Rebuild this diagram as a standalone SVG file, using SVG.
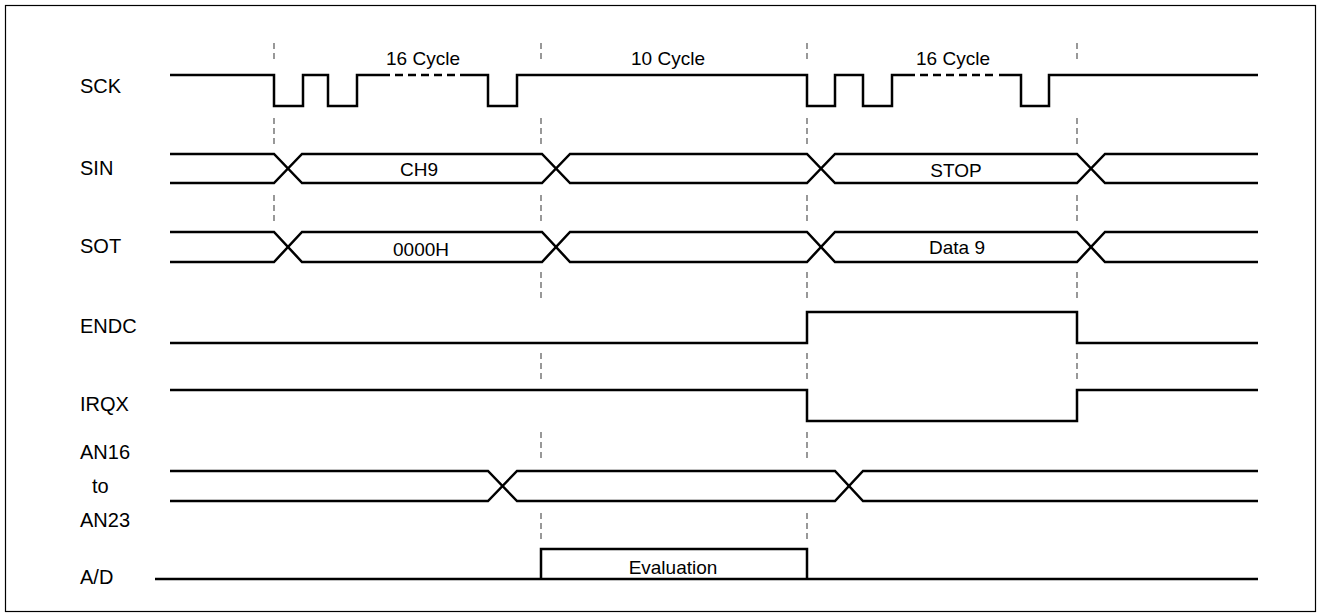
<svg xmlns="http://www.w3.org/2000/svg" width="1321" height="615" viewBox="0 0 1321 615">
<style>
.sig{fill:none;stroke:#000;stroke-width:2.5;stroke-linejoin:miter}
.dsig{fill:none;stroke:#000;stroke-width:2.5;stroke-dasharray:8 5}
.grid{fill:none;stroke:#555;stroke-width:1.2;stroke-dasharray:6 4}
.lbl{font-family:"Liberation Sans",Arial,sans-serif;font-size:20px;fill:#000}
.txt{font-family:"Liberation Sans",Arial,sans-serif;font-size:19px;fill:#000;text-anchor:middle}
</style>
<rect x="5.5" y="5.5" width="1310" height="606" fill="#fff" stroke="#000" stroke-width="1.2"/>
<g id="grid">
<path class="grid" d="M274,43V62M274,118V146M274,195V222"/>
<path class="grid" d="M541,43V62M541,118V146M541,195V222M541,272V300M541,353V380M541,432V460M541,513V540"/>
<path class="grid" d="M807,43V62M807,118V146M807,195V222M807,272V300M807,353V380M807,432V460M807,513V540"/>
<path class="grid" d="M1077,43V62M1077,118V146M1077,195V222M1077,272V300M1077,353V380"/>
</g>
<g id="labels">
<text class="lbl" x="80" y="93">SCK</text>
<text class="lbl" x="80" y="175">SIN</text>
<text class="lbl" x="80" y="253">SOT</text>
<text class="lbl" x="80" y="333">ENDC</text>
<text class="lbl" x="80" y="411">IRQX</text>
<text class="lbl" x="80" y="459">AN16</text>
<text class="lbl" x="92" y="493">to</text>
<text class="lbl" x="80" y="527">AN23</text>
<text class="lbl" x="80" y="584">A/D</text>
</g>
<g id="SCK">
<path class="sig" d="M170,75H274V106H303V75H328V106H357V75H382"/>
<path class="dsig" d="M382,75H462"/>
<path class="sig" d="M462,75H488V106H517V75H807V106H835V75H863V106H892V75H907"/>
<path class="dsig" d="M907,75H993"/>
<path class="sig" d="M999,75H1021V106H1049V75H1258"/>
<text class="txt" x="423" y="65">16 Cycle</text>
<text class="txt" x="668" y="65">10 Cycle</text>
<text class="txt" x="953" y="65">16 Cycle</text>
</g>
<g id="SIN">
<path class="sig" d="M170,154H274L302,183H542L570,154H807L835,183H1077L1105,154H1258"/>
<path class="sig" d="M170,183H274L302,154H542L570,183H807L835,154H1077L1105,183H1258"/>
<text class="txt" x="419" y="176">CH9</text>
<text class="txt" x="956" y="177">STOP</text>
</g>
<g id="SOT">
<path class="sig" d="M170,232H274L302,262H542L570,232H807L835,262H1077L1105,232H1258"/>
<path class="sig" d="M170,262H274L302,232H542L570,262H807L835,232H1077L1105,262H1258"/>
<text class="txt" x="421" y="256">0000H</text>
<text class="txt" x="957" y="254">Data 9</text>
</g>
<g id="ENDC">
<path class="sig" d="M170,343H807V312H1077V343H1258"/>
</g>
<g id="IRQX">
<path class="sig" d="M170,390H807V421H1077V390H1258"/>
</g>
<g id="AN16">
<path class="sig" d="M170,471H488L517,501H835L863,471H1258"/>
<path class="sig" d="M170,501H488L517,471H835L863,501H1258"/>
</g>
<g id="AD">
<path class="sig" d="M155,579H1258"/>
<path class="sig" d="M541,579V549H807V579"/>
<text class="txt" x="673" y="574">Evaluation</text>
</g>
</svg>
